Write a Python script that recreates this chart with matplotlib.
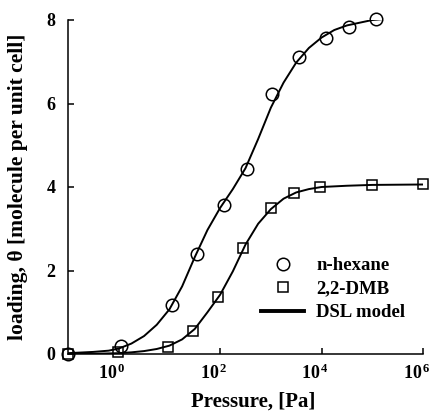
import math
import matplotlib
matplotlib.use("Agg")
import matplotlib.pyplot as plt
from matplotlib.lines import Line2D
from matplotlib.ticker import FixedLocator, FuncFormatter, NullLocator
from matplotlib.transforms import ScaledTranslation

# ---- data ----
hex_p = [0.1, 1.12, 11, 35, 117, 340, 1070, 3550, 12000, 35000, 117000]
hex_theta = [0.0, 0.2, 1.17, 2.4, 3.57, 4.42, 6.22, 7.12, 7.58, 7.84, 8.02]

dmb_p = [0.1, 0.95, 9.5, 29, 89, 282, 1000, 2900, 9300, 100000, 1000000]
dmb_theta = [0.0, 0.04, 0.17, 0.56, 1.37, 2.55, 3.5, 3.86, 4.0, 4.05, 4.06]

# DSL model curves
hex_model_p = [0.1, 0.316, 0.631, 1.0, 1.78, 3.16, 5.62, 10, 17.8, 31.6, 56.2, 100,
               178, 316, 562, 1000, 1780, 3160, 5620, 10000, 17800, 31600, 100000,
               316000, 1000000]
hex_model_theta = [0.02, 0.05, 0.08, 0.13, 0.25, 0.43, 0.7, 1.07, 1.62, 2.32, 2.97, 3.5,
                   3.95, 4.45, 5.15, 5.9, 6.5, 6.98, 7.33, 7.58, 7.76, 7.87, 8.0,
                   8.05, 8.08]

dmb_model_p = [0.1, 0.316, 1.0, 1.78, 3.16, 5.62, 10, 17.8, 31.6, 56.2, 100, 178, 316,
               562, 1000, 1780, 3160, 5620, 10000, 31600, 100000, 1000000]
dmb_model_theta = [0.0, 0.005, 0.02, 0.04, 0.07, 0.12, 0.2, 0.35, 0.6, 1.0, 1.42, 1.98,
                   2.62, 3.12, 3.47, 3.72, 3.87, 3.95, 4.0, 4.03, 4.05, 4.06]

x_ticks = [1, 1e2, 1e4, 1e6]
y_ticks = [0, 2, 4, 6, 8]
legend_labels = ['n-hexane', '2,2-DMB', 'DSL model']

# ---- style ----
plt.rcParams['font.family'] = ['Liberation Serif', 'DejaVu Serif']
plt.rcParams['font.weight'] = 'bold'
plt.rcParams['mathtext.fontset'] = 'custom'
plt.rcParams['mathtext.rm'] = 'Liberation Serif:bold'
plt.rcParams['mathtext.bf'] = 'Liberation Serif:bold'
plt.rcParams['mathtext.it'] = 'Liberation Serif:bold'

fig = plt.figure(figsize=(4.29, 4.12), dpi=100)
ax = fig.add_axes([68 / 429, 1 - 354 / 412, (423 - 68) / 429, (354 - 20) / 412])

lw = 1.4
ax.plot(hex_model_p, hex_model_theta, color='black', lw=lw, zorder=2)
ax.plot(dmb_model_p, dmb_model_theta, color='black', lw=lw, zorder=2)
ax.plot(hex_p, hex_theta, linestyle='none', marker='o', ms=9, mfc='none',
        mec='black', mew=1.1, clip_on=False, zorder=3)
ax.plot(dmb_p, dmb_theta, linestyle='none', marker='s', ms=7.8, mfc='none',
        mec='black', mew=1.1, clip_on=False, zorder=3)

ax.set_xscale('log')
ax.set_xlim(0.1, 1e6)
ax.set_ylim(0, 8)

ax.xaxis.set_major_locator(FixedLocator(x_ticks))
ax.xaxis.set_minor_locator(NullLocator())
ax.xaxis.set_major_formatter(FuncFormatter(
    lambda v, pos: r'$\mathbf{10^{\,%d}}$' % round(math.log10(v))))
ax.yaxis.set_major_locator(FixedLocator(y_ticks))

for s in ['top', 'right']:
    ax.spines[s].set_visible(False)
for s in ['left', 'bottom']:
    ax.spines[s].set_linewidth(1.1)

ax.tick_params(axis='both', direction='in', length=4, width=1.1, labelsize=13)
ax.tick_params(axis='x', pad=7)
ax.tick_params(axis='y', pad=9)
shift = ScaledTranslation(-0.065, 0, fig.dpi_scale_trans)
for lab in ax.get_xticklabels():
    lab.set_transform(lab.get_transform() + shift)
for lab in ax.get_yticklabels():
    lab.set_fontweight('bold')

ax.set_xlabel('Pressure, [Pa]', fontsize=15, fontweight='bold')
ax.xaxis.label.set_va('center')
ax.xaxis.set_label_coords((253 - 68) / 355, -(402 - 354) / 334)
ax.set_ylabel('loading, θ [molecule per unit cell]', fontsize=15.5, fontweight='bold')
ax.yaxis.label.set_va('center')
ax.yaxis.set_label_coords((18 - 68) / 355, 0.5)

handles = [
    Line2D([], [], linestyle='none', marker='o', ms=9, mfc='none', mec='black', mew=1.1),
    Line2D([], [], linestyle='none', marker='s', ms=7.8, mfc='none', mec='black', mew=1.1),
    Line2D([], [], color='black', lw=2.8),
]
leg = ax.legend(handles, legend_labels, loc='upper left',
                bbox_to_anchor=((261 - 68) / 355, 1 - (257 - 20) / 334),
                frameon=False, prop={'family': 'Liberation Serif', 'weight': 'bold', 'size': 13.5},
                handlelength=2.3, handletextpad=0.64, labelspacing=0.34,
                borderaxespad=0, borderpad=0)

fig.savefig('out.png', dpi=100)
